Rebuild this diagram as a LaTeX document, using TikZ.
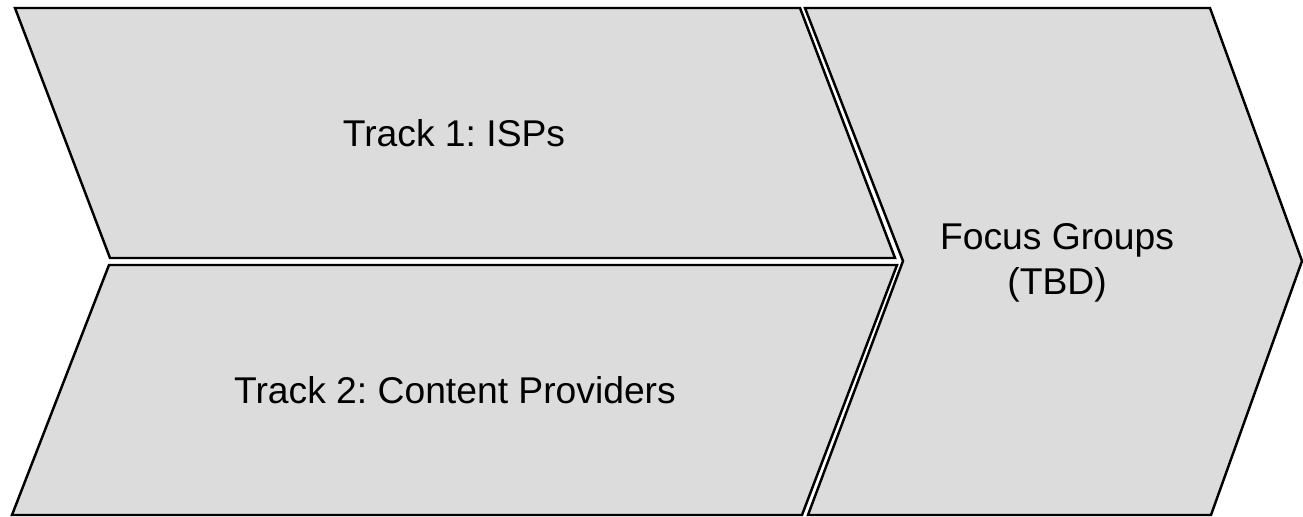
\documentclass[tikz,border=0pt]{standalone}
\usepackage{fontspec}
\setmainfont{Liberation Sans}
\usepackage{xcolor}
\usepackage{tikz}
\usetikzlibrary{positioning}
\definecolor{panelgray}{RGB}{220,220,220}
\frenchspacing

\begin{document}
\begin{tikzpicture}[
  x=0.02cm, y=-0.02cm,
  panel/.style={draw, fill=panelgray, line width=1.4pt, line join=miter},
  lbl/.style={font=\fontsize{21.2}{25.5}\selectfont, align=center}
]
\useasboundingbox (0,0) rectangle (1303,517);

% Left: the two tracks
\draw[panel] (15,8) -- (800,8) -- (895,258) -- (110,258) -- cycle;
\draw[panel] (109,265) -- (897,265) -- (802,515) -- (12,515) -- cycle;

% Right: chevron
\draw[panel] (805,8) -- (1210,8) -- (1302,261) -- (1211,515) -- (808,515) -- (903,261) -- cycle;

% Labels
\node[lbl] (isp) at (454,133) {Track 1: ISPs};
\node[lbl] (content) at (455,390) {Track 2: Content Providers};
\node[lbl] (focus) at (1057,263) {Focus Groups\\(TBD)};
\end{tikzpicture}
\end{document}
